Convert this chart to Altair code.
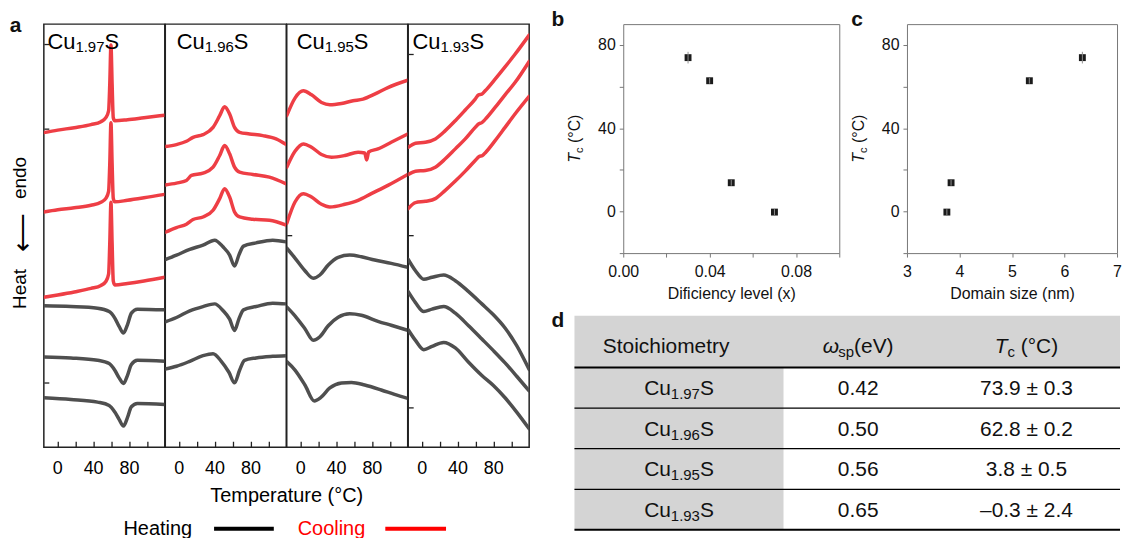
import altair as alt
import pandas as pd

FONT = "Liberation Sans"
RED = "#ee3e45"
GREY = "#4f4f4f"
INK = "#111111"

# ---------------- panel a : DSC traces (temperature in °C, heat flow in a.u., traces offset) -------------
T_DOMAIN = [-15, 120]
HF_DOMAIN = [0, 425]

# Cu1.97S
s197_cool_T = [-15, 0.5, 19, 37.6, 48.7, 54.2, 57.3, 58.6, 59.9, 61.2, 62.5, 64.2, 78.3, 96.8, 120]
s197_cool1_hf = [316, 318.5, 321, 324, 327, 331, 338, 365, 404, 365, 331, 328, 329, 331, 333.5]
s197_cool2_hf = [236.3, 238.5, 240.5, 243, 246, 250, 257, 285, 326, 285, 250, 246.5, 248, 250.5, 254]
s197_cool3_hf = [150.7, 153, 156, 159.5, 162.5, 166.5, 174, 205, 246, 205, 167, 163, 164.5, 167, 170.7]
s197_heat_T = [-15, 15.3, 45, 57.9, 64.2, 69, 73.9, 78.3, 82.7, 89.4, 120]
s197_heat1_hf = [142, 141.3, 139.7, 136.3, 129.7, 121.3, 114.7, 123, 134.7, 138.7, 138]
s197_heat2_hf = [90.7, 89.7, 87.3, 84, 77.3, 69.7, 64, 72, 83, 87.3, 86.3]
s197_heat3_hf = [49.7, 48, 45.3, 42, 35.3, 28, 21.3, 29.7, 40.7, 44, 43]

# Cu1.96S
s196_cool1_T = [-15, -2.5, 8.6, 16, 27.1, 38.3, 45.7, 51.2, 56.8, 62.3, 67.9, 79, 93.8, 108.6, 120]
s196_cool1_hf = [302, 304, 307.3, 311.3, 314, 321.3, 333, 342, 334.7, 321.3, 316.3, 314.7, 313, 309.7, 304]
s196_cool2_T = [-15, -2.5, 8.6, 14.2, 27.1, 38.3, 45.7, 51.2, 56.8, 62.3, 67.9, 82.7, 101.2, 120]
s196_cool2_hf = [263.5, 265.3, 268, 273, 275.3, 281.3, 293, 303, 294.7, 281.3, 276.3, 274, 271.3, 264.5]
s196_cool3_T = [-15, -2.5, 8.6, 16, 27.1, 38.3, 45.7, 51.2, 56.8, 62.3, 67.9, 82.7, 101.2, 120]
s196_cool3_hf = [216, 220.7, 224, 228.7, 231.3, 238, 249.7, 259.7, 251.3, 236.3, 231.3, 229, 228, 223]
s196_heat12_T = [-15, -2.5, 12.3, 27.1, 40.1, 49.4, 56.8, 62.3, 67.1, 72.3, 86.4, 104.9, 120]
s196_heat1_hf = [188.5, 193, 198.7, 203, 208, 201.3, 193, 182, 193, 202, 205.3, 208, 206.3]
s196_heat2_hf = [126, 130.3, 137, 141.3, 144, 137.3, 128.7, 117.3, 128.7, 138, 141.3, 144.7, 144]
s196_heat3_T = [-15, -2.5, 12.3, 27.1, 38.3, 47.5, 56, 62.3, 67.9, 73.4, 86.4, 104.9, 120]
s196_heat3_hf = [78.5, 81.3, 86.3, 92, 94, 86.3, 75.3, 64.7, 77.3, 87.3, 89.7, 91.3, 92]

# Cu1.95S
s195_cool1_T = [-15, -5.8, 3.5, 12.7, 23.8, 33.1, 46.1, 59, 70.1, 83.1, 97.9, 120]
s195_cool1_hf = [333, 350.7, 358, 354, 346.3, 344, 345.3, 348, 349.7, 354.7, 361.3, 368.7]
s195_cool2_T = [-15, -5.8, 3.5, 12.7, 23.8, 35, 49.8, 64.6, 72, 74.2, 76.4, 86.8, 101.6, 120]
s195_cool2_hf = [281.3, 297.3, 304.7, 301.3, 294, 291.3, 293, 296.3, 295.5, 288.5, 296.5, 299.7, 306.3, 314.7]
s195_cool3_T = [-15, -5.8, 3.5, 12.7, 23.8, 33.1, 49.8, 64.6, 79.4, 97.9, 120]
s195_cool3_hf = [224.7, 246.3, 254.7, 251.3, 244, 241.3, 244, 248, 254.7, 263, 274]
s195_heat1_T = [-15, -5.8, 5.3, 14.6, 22, 31.3, 42.4, 55.3, 68.3, 83.1, 101.6, 120]
s195_heat1_hf = [200, 190, 177.3, 169.7, 173, 183, 190.7, 193, 191.3, 188, 184.7, 180.7]
s195_heat2_T = [-15, -5.8, 5.3, 14.6, 22, 31.3, 42.4, 55.3, 68.3, 86.8, 101.6, 120]
s195_heat2_hf = [141, 132, 119, 107.5, 111, 122, 130.5, 134, 132.5, 126.5, 122.5, 117.5]
s195_heat3_T = [-15, -5.8, 5.3, 15.7, 23.1, 33.1, 46.1, 57.2, 72, 90.5, 105.3, 120]
s195_heat3_hf = [86, 77.5, 62.5, 46.5, 50, 59.5, 64.5, 65, 62.5, 57.5, 53, 49]

# Cu1.93S
s193_cool12_T = [-15, -6.9, 4.2, 15.3, 26.4, 37.6, 48.7, 59.8, 63.5, 67.2, 70.9, 82, 93.1, 104.2, 120]
s193_cool1_hf = [301.3, 305.3, 306.3, 309.7, 318, 328, 338.7, 349.7, 354, 354.7, 358, 369.7, 382, 394.7, 414]
s193_cool2_hf = [274, 277.3, 278, 281.3, 289.7, 299.7, 309.7, 321.3, 324.7, 326, 329.3, 341.3, 354, 366.3, 387.5]
s193_cool3_T = [-15, -6.9, 4.2, 15.3, 26.4, 37.6, 48.7, 59.8, 64.2, 67.9, 71.6, 82, 93.1, 104.2, 120]
s193_cool3_hf = [239.7, 245.7, 247, 249.7, 258, 267.3, 277.3, 288, 292, 293, 296.3, 308, 321.3, 334.7, 352.5]
s193_heat_T = [-15, -6.9, 2.4, 11.6, 24.6, 37.6, 52.4, 67.2, 80.1, 93.1, 106.1, 120]
s193_heat1_hf = [188.7, 177.3, 168.7, 170.7, 173, 167.3, 156.3, 144, 133, 119.7, 102, 78]
s193_heat2_hf = [156.3, 145.3, 136.3, 138.7, 141.3, 134.7, 122, 108.7, 97, 84.7, 71.3, 56.5]
s193_heat3_hf = [118, 107.3, 98, 101.3, 105.3, 99.7, 85.3, 72, 62, 49.7, 35.3, 18.5]

panel_subs = ["1.97", "1.96", "1.95", "1.93"]
x_ticks_a = [0, 20, 40, 60, 80, 100]
y_ticks_a = [[405, 320, 151, 65], [], [213], [395, 213, 40]]

# ---------------- panels b, c ----------------
deficiency = [0.03, 0.04, 0.05, 0.07]
domain_size = [6.34, 5.33, 3.84, 3.76]
tc_plot = [73.9, 62.8, 13.8, -0.3]
tc_err = [2.8, 1.4, 1.4, 1.4]

# ---------------- table d ----------------
tab_sub = ["1.97", "1.96", "1.95", "1.93"]
tab_omega = ["0.42", "0.50", "0.56", "0.65"]
tab_tc = ["73.9 ± 0.3", "62.8 ± 0.2", "3.8 ± 0.5", "–0.3 ± 2.4"]

# ---------------- helpers ----------------
ADV = {"0": .556, "1": .556, "2": .556, "3": .556, "4": .556, "5": .556, "6": .556, "7": .556,
       "8": .556, "9": .556, ".": .278, " ": .278, "C": .722, "u": .556, "S": .667, "T": .611,
       "c": .5, "s": .5, "p": .556, "e": .556, "V": .667, "(": .333, ")": .333, "°": .4,
       "ω": .74, "±": .584, "–": .556}


def tw(s, size):
    return sum(ADV.get(ch, .556) for ch in s) * size


ONE = pd.DataFrame({"k": [0]})


def rich(parts, x, y, anchor="left", angle=0, color=INK):
    total = sum(tw(t, s) for t, s, _, _ in parts)
    pos = -total / 2 if anchor == "center" else 0.0
    out = []
    for t, s, it, sh in parts:
        lead = len(t) - len(t.lstrip(" "))
        if lead:
            pos += tw(" " * lead, s)
            t = t.lstrip(" ")
        props = dict(text=t, fontSize=s, font=FONT, color=color, align="left", baseline="alphabetic")
        if it:
            props["fontStyle"] = "italic"
        if angle:
            props["angle"] = angle
            enc = dict(x=alt.value(x + sh), y=alt.value(y - pos))
        else:
            enc = dict(x=alt.value(x + pos), y=alt.value(y + sh))
        out.append(alt.Chart(ONE).mark_text(**props).encode(**enc))
        pos += tw(t, s)
    return out


def label(text, x, y, size=21, weight="bold", color=INK, align="left"):
    return alt.Chart(ONE).mark_text(text=text, fontSize=size, fontWeight=weight, font=FONT, color=color,
                                    align=align, baseline="alphabetic"
                                    ).encode(x=alt.value(x), y=alt.value(y))


def vtext(text, x, y, size):
    return alt.Chart(ONE).mark_text(text=text, angle=270, fontSize=size, align="center",
                                    baseline="middle", color="black", font=FONT
                                    ).encode(x=alt.value(x), y=alt.value(y))


def traces_df(traces):
    rows = []
    for cid, (kind, T, hf) in enumerate(traces):
        for t, v in zip(T, hf):
            rows.append({"trace": cid, "kind": kind, "T": t, "hf": v})
    return pd.DataFrame(rows)


PANEL_W = 121.5
PANEL_H = 425


def dsc_panel(traces, sub, label_dx, yticks, extra=(), title=False):
    df = traces_df(traces)
    ax = dict(values=x_ticks_a, labelExpr="datum.value % 40 === 0 ? datum.label : ''", tickSize=6,
              offset=-6, domain=False, grid=False, labelFontSize=18, labelPadding=12, labelColor="black",
              labelFlush=False, tickColor="#222", tickWidth=1.3, labelFont=FONT)
    if title:
        xaxis = alt.Axis(title="Temperature (°C)", titleX=PANEL_W, titleY=44.6, titleAlign="center",
                         titleBaseline="top", titleFontSize=20, titleFontWeight="normal",
                         titleColor="black", titleFont=FONT, **ax)
    else:
        xaxis = alt.Axis(title=None, **ax)
    if yticks:
        yaxis = alt.Axis(values=yticks, labels=False, tickSize=5, offset=-5, domain=False, grid=False,
                         title=None, tickColor="#222", tickWidth=1.3)
    else:
        yaxis = None
    lines = alt.Chart(df).mark_line(strokeWidth=3.5, interpolate="monotone", clip=True,
                                    strokeCap="round", strokeJoin="round").encode(
        x=alt.X("T:Q", scale=alt.Scale(domain=T_DOMAIN, nice=False, zero=False), axis=xaxis),
        y=alt.Y("hf:Q", scale=alt.Scale(domain=HF_DOMAIN, nice=False, zero=False), axis=yaxis),
        color=alt.Color("kind:N", scale=alt.Scale(domain=["Heating", "Cooling"], range=[GREY, RED]),
                        legend=None),
        detail="trace:N",
    )
    lab = rich([("Cu", 22, False, 0), (sub, 15, False, 3.5), ("S", 22, False, 0)], label_dx, 24.5,
               color="black")
    return alt.layer(lines, *lab, *extra).properties(
        width=PANEL_W, height=PANEL_H, view=alt.ViewBackground(stroke="#222", strokeWidth=1.5))


p1_extra = [
    label("a", -34.3, 8),
    vtext("Heat", -23.5, 266, 19),
    vtext("⟵", -21, 209.5, 27),
    vtext("endo", -23.5, 154.5, 19),
    label("Heating", 80, 513, size=20, weight="normal", color="black"),
    label("Cooling", 255, 513, size=20, weight="normal", color="#ff0000"),
    alt.Chart(ONE).mark_rule(color="black", strokeWidth=4).encode(
        x=alt.value(171), x2=alt.value(231), y=alt.value(507)),
    alt.Chart(ONE).mark_rule(color="#ff0000", strokeWidth=4).encode(
        x=alt.value(343), x2=alt.value(404), y=alt.value(507)),
]

p1 = dsc_panel([("Cooling", s197_cool_T, s197_cool1_hf), ("Cooling", s197_cool_T, s197_cool2_hf),
                ("Cooling", s197_cool_T, s197_cool3_hf), ("Heating", s197_heat_T, s197_heat1_hf),
                ("Heating", s197_heat_T, s197_heat2_hf), ("Heating", s197_heat_T, s197_heat3_hf)],
               panel_subs[0], 3.6, y_ticks_a[0], extra=p1_extra)
p2 = dsc_panel([("Cooling", s196_cool1_T, s196_cool1_hf), ("Cooling", s196_cool2_T, s196_cool2_hf),
                ("Cooling", s196_cool3_T, s196_cool3_hf), ("Heating", s196_heat12_T, s196_heat1_hf),
                ("Heating", s196_heat12_T, s196_heat2_hf), ("Heating", s196_heat3_T, s196_heat3_hf)],
               panel_subs[1], 11.5, y_ticks_a[1], title=True)
p3 = dsc_panel([("Cooling", s195_cool1_T, s195_cool1_hf), ("Cooling", s195_cool2_T, s195_cool2_hf),
                ("Cooling", s195_cool3_T, s195_cool3_hf), ("Heating", s195_heat1_T, s195_heat1_hf),
                ("Heating", s195_heat2_T, s195_heat2_hf), ("Heating", s195_heat3_T, s195_heat3_hf)],
               panel_subs[2], 10, y_ticks_a[2])
p4 = dsc_panel([("Cooling", s193_cool12_T, s193_cool1_hf), ("Cooling", s193_cool12_T, s193_cool2_hf),
                ("Cooling", s193_cool3_T, s193_cool3_hf), ("Heating", s193_heat_T, s193_heat1_hf),
                ("Heating", s193_heat_T, s193_heat2_hf), ("Heating", s193_heat_T, s193_heat3_hf)],
               panel_subs[3], 4.2, y_ticks_a[3])

# ---------------- scatter panels ----------------
sc_df = pd.DataFrame({"deficiency": deficiency, "domain": domain_size, "Tc": tc_plot,
                      "lo": [v - e for v, e in zip(tc_plot, tc_err)],
                      "hi": [v + e for v, e in zip(tc_plot, tc_err)]})

SC_H = 230
LETTER_X = -72
LETTER_Y = 2


def scatter(xfield, xdom, xvals, xexpr, xfmt, xtitle, letter, letter_x, width):
    common = dict(domain=False, grid=False, tickColor="#777", tickSize=4, tickWidth=1, labelFontSize=16,
                  labelColor=INK, labelFont=FONT, labelFlush=False)
    xaxis = alt.Axis(values=xvals, format=xfmt, labelExpr=xexpr, labelPadding=7, title=xtitle,
                     titleFontSize=16, titleFontWeight="normal", titleColor=INK, titlePadding=6,
                     titleFont=FONT, **common)
    yaxis = alt.Axis(values=[-20, 0, 20, 40, 60, 80],
                     labelExpr="datum.value % 40 === 0 ? datum.label : ''", labelPadding=4, title=None,
                     **common)
    xs = alt.Scale(domain=xdom, nice=False, zero=False)
    ys = alt.Scale(domain=[-20, 90], nice=False, zero=False)
    base = alt.Chart(sc_df)
    pts = base.mark_square(size=48, color="#1b1b1b", opacity=1).encode(
        x=alt.X(f"{xfield}:Q", scale=xs, axis=xaxis), y=alt.Y("Tc:Q", scale=ys, axis=yaxis))
    err = base.mark_rule(color="#8f8f8f", strokeWidth=1).encode(
        x=alt.X(f"{xfield}:Q", scale=xs, axis=xaxis), y=alt.Y("lo:Q", scale=ys, axis=yaxis), y2="hi:Q")
    ytitle = rich([("T", 16, True, 0), ("c", 11, False, 3), (" (°C)", 16, False, 0)], -43, SC_H / 2,
                  anchor="center", angle=270)
    return alt.layer(pts, err, *ytitle, label(letter, letter_x, LETTER_Y)).properties(
        width=width, height=SC_H, view=alt.ViewBackground(stroke="#777", strokeWidth=1))


pb = scatter("deficiency", [0, 0.1], [0, 0.02, 0.04, 0.06, 0.08, 0.1],
             "indexof(['0.00','0.04','0.08'], datum.label) >= 0 ? datum.label : ''", ".2f",
             "Dificiency level (x)", "b", LETTER_X, 217)
pc = scatter("domain", [3, 7], [3, 3.5, 4, 4.5, 5, 5.5, 6, 6.5, 7],
             "datum.value % 1 === 0 ? datum.label : ''", "d", "Domain size (nm)", "c", -56, 211)

# ---------------- table ----------------
TAB_W = 548
TAB_SHIFT = 49          # table starts this far left of panel b's plot area
TAB_H = 215
HEAD_H = 52
ROW_H = (TAB_H - HEAD_H) / 4
COL_W = [210, 150, 188]
COL_C = [COL_W[0] / 2, COL_W[0] + COL_W[1] / 2, COL_W[0] + COL_W[1] + COL_W[2] / 2]
TXT = 21
SUB = 15

txs = alt.Scale(domain=[TAB_SHIFT, TAB_W], nice=False, zero=False)
tys = alt.Scale(domain=[0, TAB_H], nice=False, zero=False, reverse=True)

shade_df = pd.DataFrame({"x0": [0, 0], "x1": [TAB_W, COL_W[0]], "y0": [0, HEAD_H], "y1": [HEAD_H, TAB_H]})
shade = alt.Chart(shade_df).mark_rect(color="#d4d4d4").encode(
    x=alt.X("x0:Q", scale=txs, axis=None), x2="x1:Q",
    y=alt.Y("y0:Q", scale=tys, axis=None), y2="y1:Q")

rule_df = pd.DataFrame({"ly": [HEAD_H + ROW_H * i for i in range(5)],
                        "lw": [2, 1.3, 1.3, 1.3, 2], "xa": 0, "xb": TAB_W})
rules = alt.Chart(rule_df).mark_rule(color="black").encode(
    x=alt.X("xa:Q", scale=txs, axis=None), x2="xb:Q", y=alt.Y("ly:Q", scale=tys, axis=None),
    strokeWidth=alt.StrokeWidth("lw:Q", scale=None))

row_df = pd.DataFrame({"yc": [HEAD_H + ROW_H * (i + 0.5) for i in range(4)], "sub": tab_sub,
                       "omega": tab_omega, "tc": tab_tc})
w_cu, w_sub, w_s = tw("Cu", TXT), tw("1.97", SUB), tw("S", TXT)
start = -(w_cu + w_sub + w_s) / 2
ROW_DY = 7.5
ty = alt.Y("yc:Q", scale=tys, axis=None)
CX = [c - TAB_SHIFT for c in COL_C]
row_layers = [
    alt.Chart(row_df).mark_text(text="Cu", fontSize=TXT, font=FONT, color=INK, align="left",
                                baseline="alphabetic", dx=start, dy=ROW_DY).encode(
        x=alt.value(CX[0]), y=ty),
    alt.Chart(row_df).mark_text(fontSize=SUB, font=FONT, color=INK, align="left", baseline="alphabetic",
                                dx=start + w_cu, dy=ROW_DY + 4).encode(
        x=alt.value(CX[0]), y=ty, text="sub:N"),
    alt.Chart(row_df).mark_text(text="S", fontSize=TXT, font=FONT, color=INK, align="left",
                                baseline="alphabetic", dx=start + w_cu + w_sub, dy=ROW_DY).encode(
        x=alt.value(CX[0]), y=ty),
    alt.Chart(row_df).mark_text(fontSize=TXT, font=FONT, color=INK, align="center",
                                baseline="alphabetic", dy=ROW_DY).encode(
        x=alt.value(CX[1]), y=ty, text="omega:N"),
    alt.Chart(row_df).mark_text(fontSize=TXT, font=FONT, color=INK, align="center",
                                baseline="alphabetic", dy=ROW_DY).encode(
        x=alt.value(CX[2]), y=ty, text="tc:N"),
]
HEAD_BASE = 37.5
head_layers = (rich([("Stoichiometry", TXT, False, 0)], CX[0], HEAD_BASE, anchor="center")
               + rich([("ω", TXT, True, 0), ("sp", SUB, False, 4), ("(eV)", TXT, False, 0)],
                      CX[1], HEAD_BASE, anchor="center")
               + rich([("T", TXT, True, 0), ("c", SUB, False, 4), (" (°C)", TXT, False, 0)],
                      CX[2], HEAD_BASE, anchor="center"))

table = alt.layer(shade, rules, *row_layers, *head_layers, label("d", LETTER_X, 11)).properties(
    width=TAB_W - TAB_SHIFT, height=TAB_H,
    view=alt.ViewBackground(stroke="transparent", strokeWidth=0))

# ---------------- layout ----------------
left = alt.hconcat(p1, p2, p3, p4, spacing=0, bounds="flush")
bc = alt.hconcat(pb, pc, spacing=10)
right = alt.vconcat(bc, table, spacing=7)
chart = alt.hconcat(left, right, spacing=20).properties(
    padding={"left": 0, "top": -1, "right": 0, "bottom": 0}, background="white"
).configure(font=FONT)

chart.save("out.html", embed_options={"renderer": "svg", "actions": False})
